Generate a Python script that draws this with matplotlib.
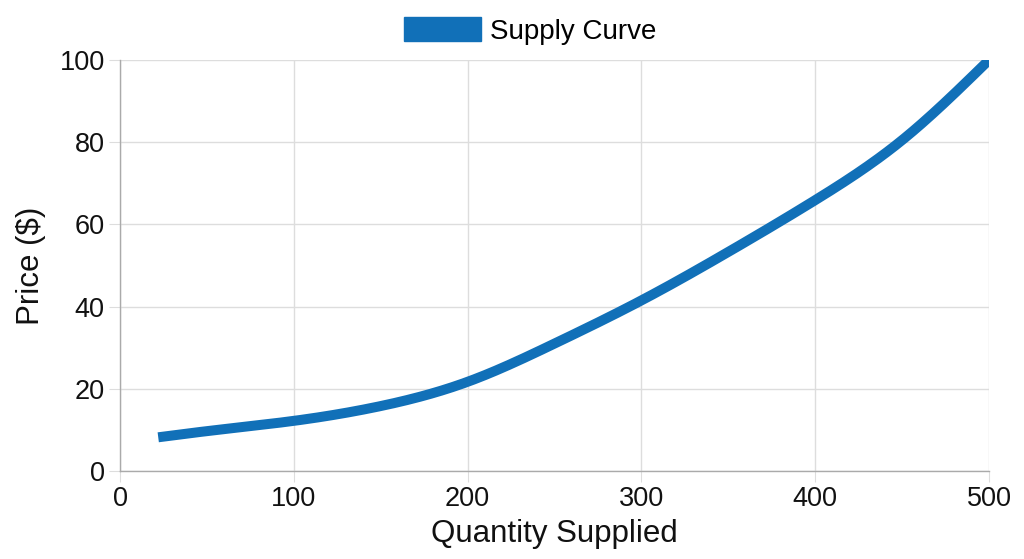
import matplotlib
matplotlib.use("Agg")
import matplotlib.pyplot as plt
from matplotlib.patches import Patch
import numpy as np

quantity = [22, 50, 100, 150, 200, 250, 300, 350, 400, 450, 500]
price = [8.2, 9.7, 12.2, 15.8, 21.7, 31.0, 41.5, 53.3, 65.9, 80.5, 100.0]
series_name = "Supply Curve"
x_ticks = [0, 100, 200, 300, 400, 500]
y_ticks = [0, 20, 40, 60, 80, 100]

plt.rcParams['font.family'] = ['Liberation Sans', 'DejaVu Sans']
color = '#1170b8'
text_color = '#111111'


def natural_spline(xp, yp, n=40):
    xp = np.asarray(xp, float)
    yp = np.asarray(yp, float)
    N = len(xp)
    h = np.diff(xp)
    A = np.zeros((N, N))
    b = np.zeros(N)
    A[0, 0] = 1
    A[-1, -1] = 1
    for i in range(1, N - 1):
        A[i, i - 1] = h[i - 1]
        A[i, i] = 2 * (h[i - 1] + h[i])
        A[i, i + 1] = h[i]
        b[i] = 6 * ((yp[i + 1] - yp[i]) / h[i] - (yp[i] - yp[i - 1]) / h[i - 1])
    M = np.linalg.solve(A, b)
    ox, oy = [], []
    for k in range(N - 1):
        t = np.linspace(xp[k], xp[k + 1], n, endpoint=False)
        a = xp[k + 1] - t
        c = t - xp[k]
        s = (M[k] * a**3 + M[k + 1] * c**3) / (6 * h[k]) \
            + (yp[k] / h[k] - M[k] * h[k] / 6) * a \
            + (yp[k + 1] / h[k] - M[k + 1] * h[k] / 6) * c
        ox.extend(t)
        oy.extend(s)
    ox.append(xp[-1])
    oy.append(yp[-1])
    return np.array(ox), np.array(oy)


fig = plt.figure(figsize=(10.24, 5.59), dpi=100)
ax = fig.add_axes([120/1024, 1-471/559, (989-120)/1024, (471-60)/559])

cx, cy = natural_spline(quantity, price)
ax.plot(cx, cy, color=color, lw=7.2, solid_capstyle='butt', solid_joinstyle='round', zorder=3)

ax.set_xlim(0, 500)
ax.set_ylim(0, 100)
ax.set_xticks(x_ticks)
ax.set_yticks(y_ticks)
ax.grid(True, color='#dddddd', lw=1)
ax.set_axisbelow(True)
for s in ['top', 'right']:
    ax.spines[s].set_visible(False)
for s in ['left', 'bottom']:
    ax.spines[s].set_color('#aaaaaa')
    ax.spines[s].set_linewidth(1)
ax.tick_params(axis='both', length=8, color='#dddddd', labelsize=19.5, pad=3, labelcolor=text_color)
ax.set_xlabel("Quantity Supplied", fontsize=22.5, labelpad=5, color=text_color)
ax.set_ylabel("Price ($)", fontsize=22.5, labelpad=10, color=text_color)

handle = Patch(facecolor=color, edgecolor=color)
fig.legend([handle], [series_name], loc='center', bbox_to_anchor=(0.518, 1-31/559),
           frameon=False, fontsize=20, handlelength=2.75, handleheight=0.95, handletextpad=0.35)

fig.savefig("out.png", dpi=100, facecolor='white')
